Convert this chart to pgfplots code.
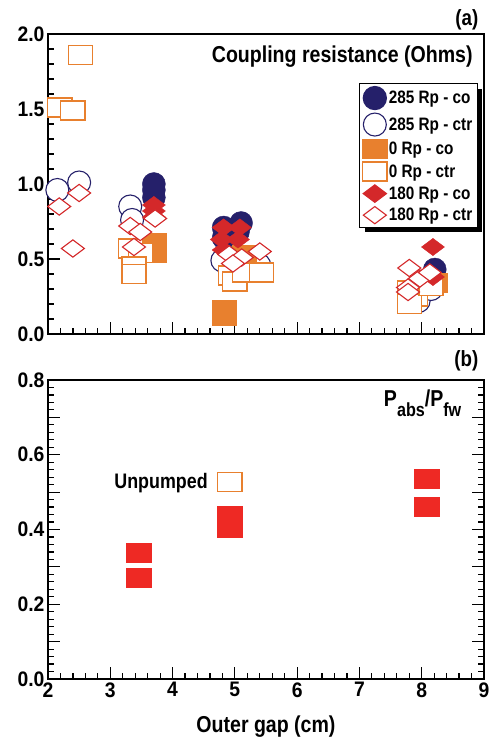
\documentclass[border=0pt]{standalone}
\usepackage{fontspec}
\setmainfont{Liberation Sans}[FakeStretch=0.85]
\newfontfamily\tickfont{Liberation Sans}[FakeStretch=0.92]
\usepackage{pgfplots}
\pgfplotsset{compat=1.18}
\usetikzlibrary{shadows}

\definecolor{navy}{RGB}{37,32,106}
\definecolor{orng}{RGB}{232,128,46}
\definecolor{redd}{RGB}{212,40,42}
\definecolor{redb}{RGB}{238,41,36}

\pgfplotsset{
  panel/.style={
    scale only axis, width=436pt, xmin=2, xmax=9,
    tick align=inside, clip=false,
    axis line style={line width=1.5pt},
    every tick/.style={black, line width=1.2pt},
    major tick length=12pt, minor tick length=6pt,
    xtick={2,...,9}, minor x tick num=4, xtick pos=left,
    tick label style={font=\tickfont\bfseries\fontsize{21}{21}\selectfont},
    /pgf/number format/assume math mode=true,
  },
  lg/.style={only marks,
    legend image code/.code={\draw[mark repeat=2,mark phase=2,##1] plot coordinates {(0pt,0pt)(12pt,0pt)(24pt,0pt)};}},
  cfill/.style={lg, color=navy, mark=*, mark size=11.5pt, mark options={draw=navy, fill=navy}},
  copen/.style={lg, color=navy, mark=*, mark size=11.5pt, mark options={draw=navy, fill=white, line width=1.1pt}},
  sfill/.style={lg, color=orng, mark=square*, mark size=9.5pt, mark options={xscale=1.27, draw=orng, fill=orng}},
  sopen/.style={lg, color=orng, mark=square*, mark size=9.5pt, mark options={xscale=1.27, draw=orng, fill=white, line width=1.3pt}},
  dfill/.style={lg, color=redd, mark=diamond*, mark size=11.5pt, mark options={rotate=90, draw=redd, fill=redd}},
  dopen/.style={lg, color=redd, mark=diamond*, mark size=11.5pt, mark options={rotate=90, draw=redd, fill=white, line width=1.1pt}},
}

\begin{document}
\begin{tikzpicture}
% (a) coupling resistance
\begin{axis}[panel, at={(48pt,406pt)}, anchor=south west, height=300pt,
  ymin=0, ymax=2, ytick={0,0.5,1,1.5,2}, yticklabels={0.0,0.5,1.0,1.5,2.0},
  minor y tick num=4, ytick pos=left, xticklabels={},
  legend style={at={(0.986,0.837)}, anchor=north east, draw=black, line width=1.3pt,
    fill=white, font=\bfseries\fontsize{18}{18}\selectfont, inner sep=3pt, row sep=3.5pt,
    drop shadow={shadow xshift=5pt, shadow yshift=-5pt, opacity=1, fill=black}},
  legend cell align=left]
\addplot[cfill] coordinates {(3.70,1.00) (3.70,0.96) (3.70,0.91) (4.82,0.71) (4.82,0.64)
  (5.10,0.74) (5.05,0.68) (8.21,0.43) (8.20,0.39)};
\addplot[copen] coordinates {(2.15,0.96) (2.50,1.01) (3.32,0.85) (3.35,0.76) (4.80,0.49)
  (5.39,0.46) (7.95,0.22) (8.15,0.30)};
\addplot[sfill] coordinates {(3.71,0.61) (3.71,0.54) (4.83,0.16) (4.83,0.12) (5.15,0.53) (8.21,0.34)};
\addplot[sopen] coordinates {(2.19,1.51) (2.40,1.49) (2.52,1.86) (3.32,0.57) (3.49,0.54)
  (3.38,0.45) (3.38,0.40) (4.93,0.39) (5.00,0.35) (5.16,0.41) (5.43,0.41)
  (7.81,0.29) (7.90,0.25) (7.80,0.20) (8.15,0.32)};
\addplot[dfill] coordinates {(3.70,0.86) (3.70,0.82) (3.70,0.78) (4.82,0.71) (5.08,0.71)
  (4.79,0.63) (5.05,0.63) (4.82,0.56) (8.18,0.58) (8.18,0.38)};
\addplot[dopen] coordinates {(2.18,0.85) (2.50,0.94) (2.40,0.57) (3.32,0.72) (3.48,0.68)
  (3.38,0.58) (3.72,0.77) (4.91,0.53) (5.11,0.51) (5.40,0.55) (4.97,0.47)
  (7.80,0.44) (7.97,0.37) (8.13,0.41) (7.78,0.31) (7.78,0.28)};
\legend{285 Rp - co, 285 Rp - ctr, 0 Rp - co, 0 Rp - ctr, 180 Rp - co, 180 Rp - ctr}
\node[anchor=east, font=\bfseries\fontsize{23}{23}\selectfont] at (rel axis cs:0.982,0.923) {Coupling resistance (Ohms)};
\node[anchor=east, font=\bfseries\fontsize{22}{22}\selectfont] at (rel axis cs:0.995,1.047) {(a)};
\end{axis}

% (b) absorbed power fraction
\begin{axis}[panel, at={(48pt,61pt)}, anchor=south west, height=299pt,
  ymin=0, ymax=0.8, ytick={0,0.1,0.2,0.3,0.4,0.5,0.6,0.7,0.8},
  yticklabels={0.0,,0.2,,0.4,,0.6,,0.8}, minor y tick num=4,
  xlabel={Outer gap (cm)},
  xlabel style={font=\bfseries\fontsize{23}{23}\selectfont, at={(axis description cs:0.5,-0.16)}, anchor=center}]
\addplot[only marks, mark=square*, mark size=9.5pt, mark options={xscale=1.32, draw=redb, fill=redb}]
  coordinates {(3.46,0.337) (3.46,0.27) (4.91,0.437) (4.91,0.406) (8.08,0.537) (8.08,0.46)};
\addplot[only marks, mark=square*, mark size=9.5pt, mark options={xscale=1.27, draw=orng, fill=white, line width=1.3pt}]
  coordinates {(4.92,0.527)};
\node[anchor=east, font=\bfseries\fontsize{21}{21}\selectfont] at (axis cs:4.62,0.524) {Unpumped};
\node[anchor=base east, font=\bfseries\fontsize{23}{23}\selectfont] at (rel axis cs:0.956,0.913)
  {P\raisebox{-10pt}{\fontsize{19}{19}\selectfont abs}/P\raisebox{-10pt}{\fontsize{19}{19}\selectfont fw}};
\node[anchor=east, font=\bfseries\fontsize{22}{22}\selectfont] at (rel axis cs:0.995,1.064) {(b)};
\end{axis}
\pgfresetboundingbox
\path[use as bounding box] (0pt,0pt) rectangle (490pt,740pt);
\end{tikzpicture}
\end{document}
